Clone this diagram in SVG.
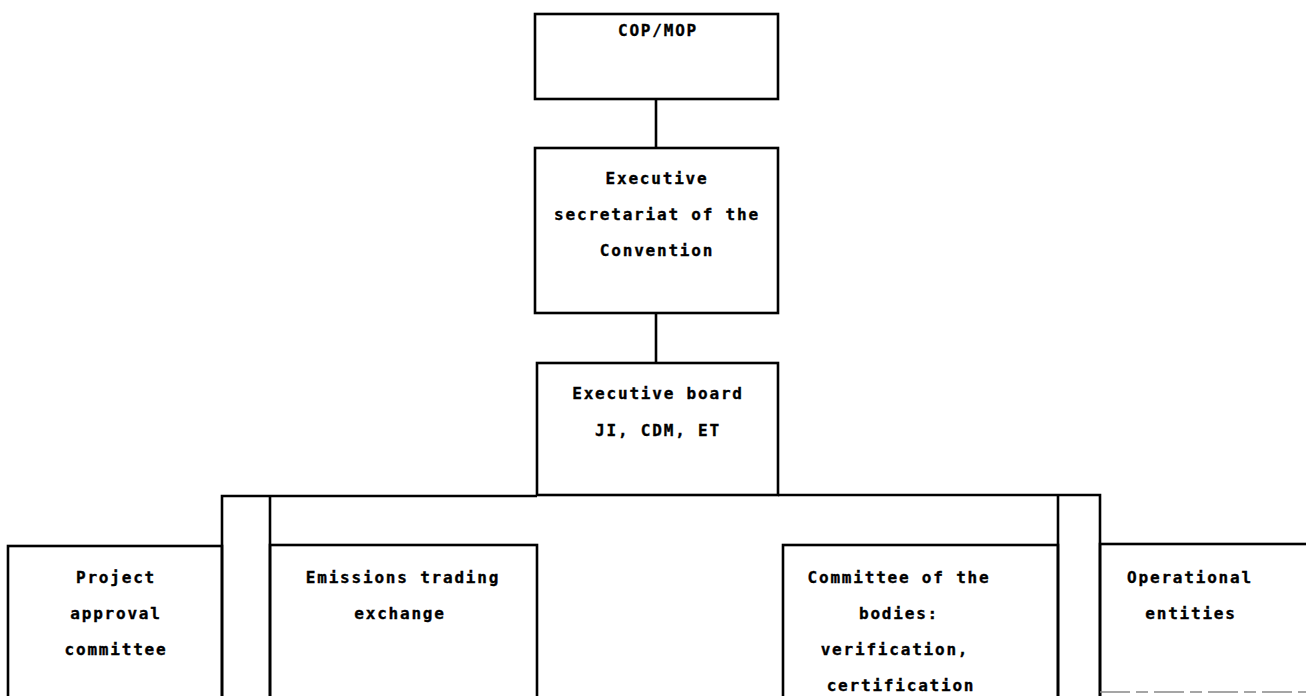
<svg xmlns="http://www.w3.org/2000/svg" width="1306" height="696" viewBox="0 0 1306 696">
<style>
.box{fill:none;stroke:#000;stroke-width:2.6}
.ln{fill:none;stroke:#000;stroke-width:2.6}
text{font-family:"DejaVu Sans Mono","Liberation Mono",monospace;font-weight:bold;font-size:16px;letter-spacing:1.8px;text-anchor:middle;fill:#000;stroke:#000;stroke-width:0.35}
</style>
<rect width="1306" height="696" fill="#fff"/>
<g id="connectors">
<line class="ln" x1="656" y1="99" x2="656" y2="148"/>
<line class="ln" x1="656" y1="313" x2="656" y2="363"/>
<polyline class="ln" points="537,496 222,496 222,700"/>
<line class="ln" x1="270" y1="496" x2="270" y2="700"/>
<polyline class="ln" points="778,495 1100,495 1100,700"/>
<line class="ln" x1="1058" y1="495" x2="1058" y2="700"/>
</g>
<g id="cop">
<rect class="box" x="535" y="14" width="243" height="85"/>
<text x="658" y="36">COP/MOP</text>
</g>
<g id="secretariat">
<rect class="box" x="535" y="148" width="243" height="165"/>
<text x="657" y="184">Executive</text>
<text x="657" y="220">secretariat of the</text>
<text x="657" y="256">Convention</text>
</g>
<g id="board">
<rect class="box" x="537" y="363" width="241" height="132"/>
<text x="658" y="399">Executive board</text>
<text x="658" y="436">JI, CDM, ET</text>
</g>
<g id="project">
<rect class="box" x="8" y="546" width="214" height="200"/>
<text x="116" y="583">Project</text>
<text x="116" y="619">approval</text>
<text x="116" y="655">committee</text>
</g>
<g id="emissions">
<rect class="box" x="270" y="545" width="267" height="200"/>
<text x="403" y="583">Emissions trading</text>
<text x="400" y="619">exchange</text>
</g>
<g id="committee">
<rect class="box" x="783" y="545" width="275" height="200"/>
<text x="899" y="583">Committee of the</text>
<text x="899" y="619">bodies:</text>
<text x="895" y="655">verification,</text>
<text x="901" y="691">certification</text>
</g>
<g id="operational">
<rect class="box" x="1100" y="544" width="230" height="200"/>
<line x1="1100" y1="692" x2="1306" y2="692" stroke="#888" stroke-width="1.5" stroke-dasharray="30,6,12,6"/>
<text x="1190" y="583">Operational</text>
<text x="1191" y="619">entities</text>
</g>
</svg>
